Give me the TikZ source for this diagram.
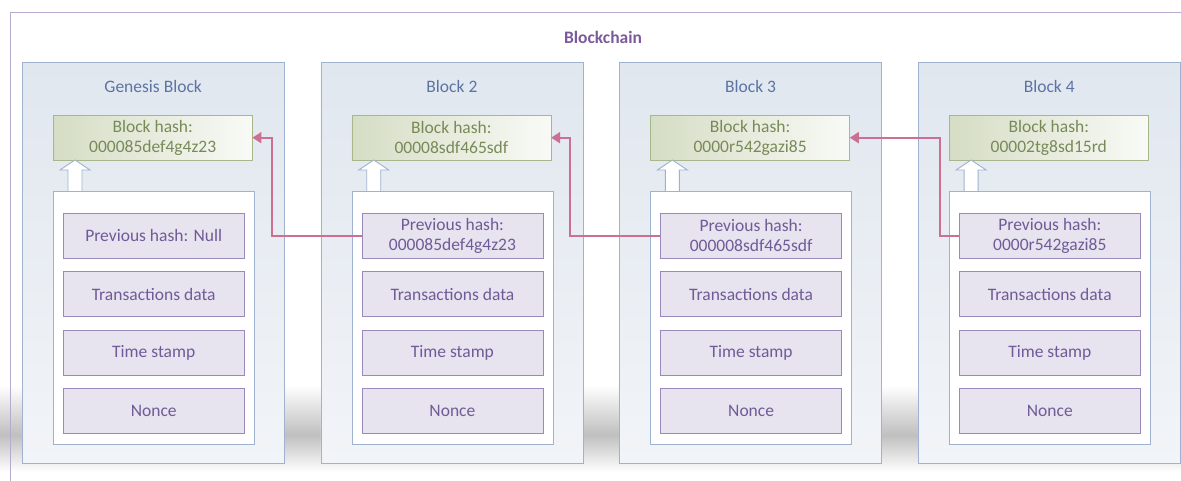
\documentclass[tikz,border=0pt]{standalone}
\usepackage{fontspec}
\setmainfont{Carlito}
\usetikzlibrary{arrows.meta,positioning}
\definecolor{frameline}{HTML}{B7AACF}
\definecolor{chaintext}{HTML}{7B5A9C}
\definecolor{blockline}{HTML}{9FB2CF}
\definecolor{blockfill}{HTML}{E1E7EF}
\definecolor{blocktext}{HTML}{5B74A3}
\definecolor{hashfill}{HTML}{D5DDC4}
\definecolor{hashline}{HTML}{A8B78B}
\definecolor{hashtext}{HTML}{788A58}
\definecolor{fieldfill}{HTML}{E7E3EF}
\definecolor{fieldline}{HTML}{9C89BB}
\definecolor{fieldtext}{HTML}{6F5B97}
\definecolor{linkcol}{HTML}{CB7090}
\tikzset{
  block/.style={draw=blockline, top color=blockfill, bottom color=blockfill!45,
    minimum width=262pt, minimum height=401pt, anchor=north west, inner sep=0pt},
  blocktitle/.style={text=blocktext, font=\fontsize{17.5}{20}\selectfont},
  hashbox/.style={draw=hashline, left color=hashfill, right color=hashfill!15,
    minimum width=199pt, minimum height=45pt, anchor=north west, align=center,
    inner sep=0pt, text=hashtext, font=\fontsize{17.5}{20}\selectfont},
  innerbox/.style={draw=blockline, fill=white, minimum width=201pt,
    minimum height=253pt, anchor=north west, inner sep=0pt},
  field/.style={draw=fieldline, fill=fieldfill, minimum width=181pt,
    minimum height=45pt, align=center, inner sep=0pt, text=fieldtext,
    font=\fontsize{17.5}{20}\selectfont},
  uparrow/.style={draw=blockline, fill=white, line width=0.9pt},
  link/.style={draw=linkcol, line width=2pt,
    -{Triangle[length=9pt,width=11pt]}}
}
\begin{document}
\begin{tikzpicture}[x=1pt,y=-1pt]
  \useasboundingbox (0,0) rectangle (1181,481);
  % soft shadow under the chain
  \shade[top color=white, bottom color=gray!50] (0,385) rectangle (1181,435);
  \shade[top color=gray!50, bottom color=white] (0,435) rectangle (1181,472);
  % frame
  \draw[frameline, line width=0.9pt] (10,481) -- (10,12) -- (1181,12);
  \node[text=chaintext, font=\bfseries\fontsize{17.5}{20}\selectfont] (chain) at (603,37) {Blockchain};
  % blocks
  \foreach \i/\title/\hash/\prev in {
      1/Genesis Block/000085def4g4z23/{Previous hash: Null},
      2/Block 2/00008sdf465sdf/{Previous hash:\\000085def4g4z23},
      3/Block 3/0000r542gazi85/{Previous hash:\\000008sdf465sdf},
      4/Block 4/00002tg8sd15rd/{Previous hash:\\0000r542gazi85}} {
    \pgfmathsetmacro\bx{22+(\i-1)*298.7}
    \node[block] (b\i) at (\bx,62) {};
    \node[blocktitle] (b\i-title) at ([yshift=-24pt]b\i.north) {\title};
    \node[hashbox] (b\i-hash) at ([xshift=31pt,yshift=-53pt]b\i.north west) {Block hash:\\\hash};
    \node[innerbox] (b\i-in) at ([xshift=31pt,yshift=-129pt]b\i.north west) {};
    \node[field, anchor=north] (b\i-prev) at ([yshift=-22pt]b\i-in.north) {\prev};
    \node[field, below=13pt of b\i-prev] (b\i-data) {Transactions data};
    \node[field, below=13pt of b\i-data] (b\i-time) {Time stamp};
    \node[field, below=13pt of b\i-time] (b\i-nonce) {Nonce};
    \draw[uparrow] ([xshift=15pt]b\i-in.north west) -- ++(0,-21) -- ++(-8,0)
      -- ++(15,-10) -- ++(15,10) -- ++(-8,0) -- ++(0,21);
  }
  % links to the previous block hash
  \foreach \i/\j/\d in {2/1/90, 3/2/90, 4/3/19}
    \draw[link] (b\i-prev.west) -- ++(-\d,0) |- (b\j-hash.east);
\end{tikzpicture}
\end{document}
